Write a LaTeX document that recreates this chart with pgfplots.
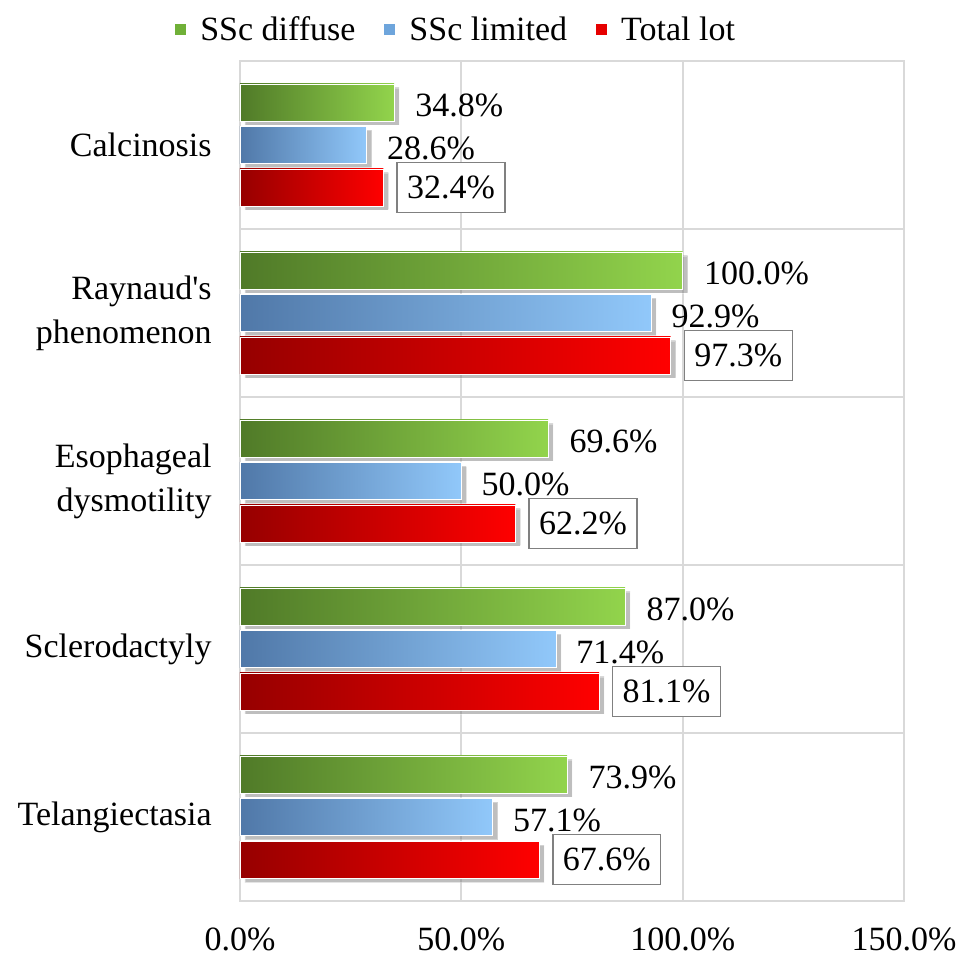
\documentclass[border=0pt]{standalone}
\usepackage{fontspec}
\setmainfont{Liberation Serif}
\usepackage{pgfplots}
\pgfplotsset{compat=1.18}
\usetikzlibrary{shadows}
\definecolor{gridgray}{RGB}{217,217,217}
\definecolor{gD}{RGB}{80,122,40}
\definecolor{gL}{RGB}{146,212,76}
\definecolor{bD}{RGB}{80,120,168}
\definecolor{bL}{RGB}{145,200,250}
\definecolor{rD}{RGB}{150,0,0}
\definecolor{rL}{RGB}{255,0,0}
\definecolor{legG}{RGB}{112,176,56}
\definecolor{legB}{RGB}{110,165,220}
\definecolor{legR}{RGB}{230,0,0}
\newcommand{\F}{\fontsize{17}{22}\selectfont}
\newcommand{\legsq}[1]{\pgfpathrectanglecorners{\pgfpoint{0pt}{-2.75pt}}{\pgfpoint{5.5pt}{2.75pt}}\pgfsetfillcolor{#1}\pgfusepath{fill}}
\pgfplotsset{
  barbase/.style={draw=white, line width=0.4pt,
    drop shadow={shadow xshift=2.5pt, shadow yshift=-2pt, left color=black!50, right color=black!50, opacity=0.3}},
  gbar/.style={barbase, left color=gD, right color=gL, bar shift=21.25pt,
    nodes near coords style={font=\F, anchor=west, inner sep=0pt, xshift=10.5pt, yshift=-1.5pt},
    legend image code/.code={\legsq{legG}}},
  bbar/.style={barbase, left color=bD, right color=bL, bar shift=0pt,
    nodes near coords style={font=\F, anchor=west, inner sep=0pt, xshift=10pt, yshift=-1.5pt},
    legend image code/.code={\legsq{legB}}},
  rbar/.style={barbase, left color=rD, right color=rL, bar shift=-21.25pt,
    nodes near coords style={font=\F, anchor=west, draw=gray, line width=0.7pt, fill=white,
      inner xsep=5pt, minimum height=25pt, xshift=6.5pt},
    legend image code/.code={\legsq{legR}}},
}
\begin{document}
\begin{tikzpicture}
\useasboundingbox (-120pt,-27.5pt) rectangle (360.5pt,450.5pt);
\begin{axis}[
  at={(0,0)}, anchor=south west,
  scale only axis, width=332pt, height=420pt,
  xbar, xmin=0, xmax=150, ymin=-0.5, ymax=4.5,
  bar width=18.5pt,
  clip=false,
  xtick={0,50,100,150},
  xticklabels={0.0\%,50.0\%,100.0\%,150.0\%},
  ytick={0,1,2,3,4},
  yticklabels={Telangiectasia,Sclerodactyly,{Esophageal\\dysmotility},{Raynaud\textquotesingle s\\phenomenon},Calcinosis},
  minor ytick={0.5,1.5,2.5,3.5},
  xmajorgrids, yminorgrids,
  grid style={draw=gridgray, line width=0.9pt},
  minor grid style={draw=gridgray, line width=0.9pt},
  axis line style={draw=gridgray, line width=0.9pt},
  major tick length=0pt, minor tick length=0pt,
  xticklabel style={font=\F, anchor=north, inner sep=0pt, yshift=-13pt},
  yticklabel style={font=\F, align=right, anchor=east, inner sep=0pt, xshift=-14pt},
  point meta=explicit symbolic,
  nodes near coords,
  legend columns=3,
  legend style={at={(rel axis cs:0.327,1.0369)}, anchor=center, draw=none, fill=none, font=\F,
    /tikz/every even column/.append style={column sep=12.5pt},
    /tikz/every odd column/.append style={column sep=5pt}},
]
% SSc diffuse
\addplot[gbar] coordinates {(34.8,4) [34.8\%]};
\addlegendentry{SSc diffuse}
\addplot[gbar, forget plot] coordinates {(100.0,3) [100.0\%]};
\addplot[gbar, forget plot] coordinates {(69.6,2) [69.6\%]};
\addplot[gbar, forget plot] coordinates {(87.0,1) [87.0\%]};
\addplot[gbar, forget plot] coordinates {(73.9,0) [73.9\%]};
% SSc limited
\addplot[bbar] coordinates {(28.6,4) [28.6\%]};
\addlegendentry{SSc limited}
\addplot[bbar, forget plot] coordinates {(92.9,3) [92.9\%]};
\addplot[bbar, forget plot] coordinates {(50.0,2) [50.0\%]};
\addplot[bbar, forget plot] coordinates {(71.4,1) [71.4\%]};
\addplot[bbar, forget plot] coordinates {(57.1,0) [57.1\%]};
% Total lot
\addplot[rbar] coordinates {(32.4,4) [32.4\%]};
\addlegendentry{Total lot}
\addplot[rbar, forget plot] coordinates {(97.3,3) [97.3\%]};
\addplot[rbar, forget plot] coordinates {(62.2,2) [62.2\%]};
\addplot[rbar, forget plot] coordinates {(81.1,1) [81.1\%]};
\addplot[rbar, forget plot] coordinates {(67.6,0) [67.6\%]};
\end{axis}
\end{tikzpicture}
\end{document}
